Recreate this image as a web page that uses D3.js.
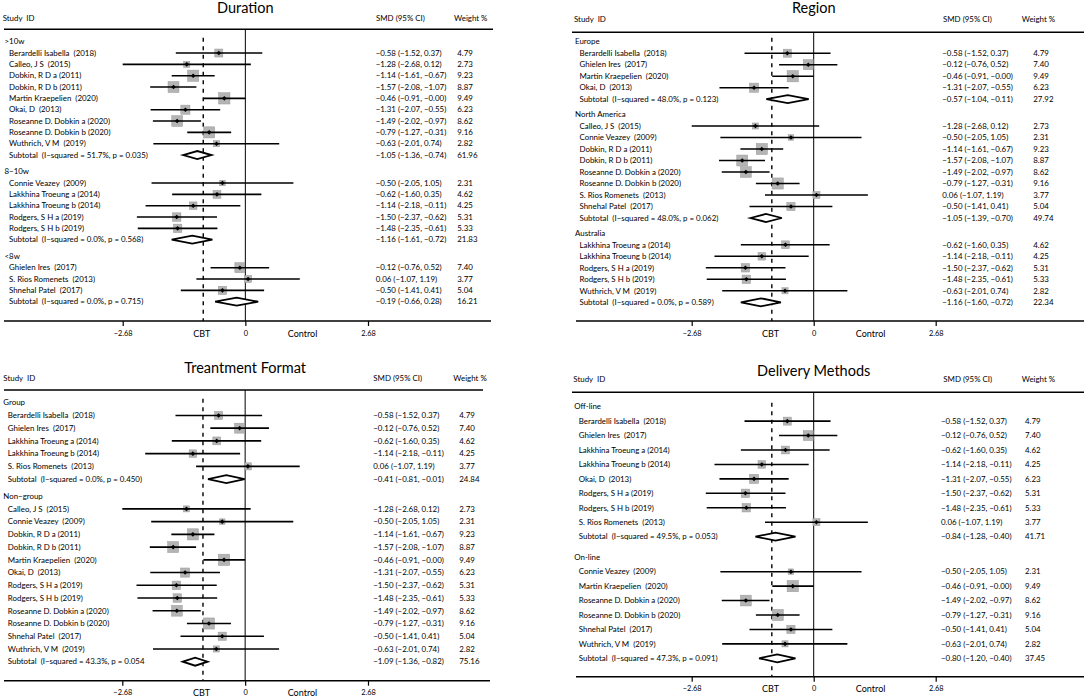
<!DOCTYPE html>
<html><head><meta charset="utf-8">
<script src="https://cdn.jsdelivr.net/npm/d3@7"></script>
<style>
body{margin:0;background:#fff}
text{font-family:Lato,"Open Sans",sans-serif;white-space:pre;fill:#000}
</style></head>
<body><svg id="c" width="1084" height="697"></svg>
<script>
// ---------- DATA ----------
const studyNames = ["Berardelli Isabella  (2018)","Calleo, J S  (2015)","Connie Veazey  (2009)","Dobkin, R D a (2011)","Dobkin, R D b (2011)","Ghielen Ires  (2017)","Lakkhina Troeung a (2014)","Lakkhina Troeung b (2014)","Martin Kraepelien  (2020)","Okai, D  (2013)","Rodgers, S H a (2019)","Rodgers, S H b (2019)","Roseanne D. Dobkin a (2020)","Roseanne D. Dobkin b (2020)","S. Rios Romenets  (2013)","Shnehal Patel  (2017)","Wuthrich, V M  (2019)"];
const studySMD    = [-0.58,-1.28,-0.50,-1.14,-1.57,-0.12,-0.62,-1.14,-0.46,-1.31,-1.50,-1.48,-1.49,-0.79, 0.06,-0.50,-0.63];
const studyLow    = [-1.52,-2.68,-2.05,-1.61,-2.08,-0.76,-1.60,-2.18,-0.91,-2.07,-2.37,-2.35,-2.02,-1.27,-1.07,-1.41,-2.01];
const studyHigh   = [ 0.37, 0.12, 1.05,-0.67,-1.07, 0.52, 0.35,-0.11,-0.00,-0.55,-0.62,-0.61,-0.97,-0.31, 1.19, 0.41, 0.74];
const studyWeight = [4.79,2.73,2.31,9.23,8.87,7.40,4.62,4.25,9.49,6.23,5.31,5.33,8.62,9.16,3.77,5.04,2.82];
const overallSMD = -0.92;
const tickValues = [-2.68, 0, 2.68];
const axisSideLabels = ["CBT","Control"];
const axisSideValues = [-0.95, 1.25];
const headerLabels = ["Study  ID","SMD (95% CI)","Weight %"];

const panelTitles = ["Duration","Region","Treantment Format","Delivery Methods"];

// Duration
const durGroups = [">10w","8\u221210w","<8w"];
const durMembers = [[0,1,3,4,8,9,12,13,16],[2,6,7,10,11],[5,14,15]];
const durSubI2 = ["51.7%","0.0%","0.0%"];
const durSubP = ["0.035)","0.568)","0.715)"];
const durSubSMD = [-1.05,-1.16,-0.19];
const durSubLow = [-1.36,-1.61,-0.66];
const durSubHigh = [-0.74,-0.72,0.28];
const durSubWeight = [61.96,21.83,16.21];
// Region
const regGroups = ["Europe","North America","Australia"];
const regMembers = [[0,5,8,9],[1,2,3,4,12,13,14,15],[6,7,10,11,16]];
const regSubI2 = ["48.0%","48.0%","0.0%"];
const regSubP = ["0.123)","0.062)","0.589)"];
const regSubSMD = [-0.57,-1.05,-1.16];
const regSubLow = [-1.04,-1.39,-1.60];
const regSubHigh = [-0.11,-0.70,-0.72];
const regSubWeight = [27.92,49.74,22.34];
// Treatment format
const fmtGroups = ["Group","Non\u2212group"];
const fmtMembers = [[0,5,6,7,14],[1,2,3,4,8,9,10,11,12,13,15,16]];
const fmtSubI2 = ["0.0%","43.3%"];
const fmtSubP = ["0.450)","0.054"];
const fmtSubSMD = [-0.41,-1.09];
const fmtSubLow = [-0.81,-1.36];
const fmtSubHigh = [-0.01,-0.82];
const fmtSubWeight = [24.84,75.16];
// Delivery methods
const delGroups = ["Off-line","On-line"];
const delMembers = [[0,5,6,7,9,10,11,14],[2,8,12,13,15,16]];
const delSubI2 = ["49.5%","47.3%"];
const delSubP = ["0.053)","0.091)"];
const delSubSMD = [-0.84,-0.80];
const delSubLow = [-1.28,-1.20];
const delSubHigh = [-0.40,-0.40];
const delSubWeight = [41.71,37.45];

// ---------- LAYOUT ----------
const layouts = [
 {hx:2.7, lx:4.5, topL:4, topR:493, axL:4, axR:491, px:[122.7,368], titleY:13, headY:21, topY:29.3, firstY:41.7, lastY:301.7, gap:0.47, axisY:321, smdX:375.7, wtX:457.3, smdHX:376, wtHX:454},
 {hx:574, lx:575, topL:572, topR:1084, axL:576, axR:1084, px:[691.7,935.7], titleY:13, headY:21.5, topY:32.3, firstY:41.7, lastY:302.3, gap:0.33, axisY:321, smdX:942.3, wtX:1033.3, smdHX:943, wtHX:1021.7},
 {hx:3.3, lx:3.3, topL:4, topR:483, axL:4, axR:490, px:[122.3,368], titleY:372.7, headY:380.5, topY:390, firstY:402.7, lastY:661.7, gap:0.34, axisY:680.7, smdX:373.3, wtX:459.3, smdHX:373.3, wtHX:453.3},
 {hx:573.3, lx:574.3, topL:572, topR:1084, axL:576, axR:1084, px:[691.7,935.7], titleY:376, headY:382, topY:392.3, firstY:406.7, lastY:658.3, gap:0.43, axisY:676.7, smdX:941, wtX:1025, smdHX:943.3, wtHX:1021.7}
];

const panelData = [
 [durGroups,durMembers,durSubI2,durSubP,durSubSMD,durSubLow,durSubHigh,durSubWeight],
 [regGroups,regMembers,regSubI2,regSubP,regSubSMD,regSubLow,regSubHigh,regSubWeight],
 [fmtGroups,fmtMembers,fmtSubI2,fmtSubP,fmtSubSMD,fmtSubLow,fmtSubHigh,fmtSubWeight],
 [delGroups,delMembers,delSubI2,delSubP,delSubSMD,delSubLow,delSubHigh,delSubWeight]
];

const fnum = v => ((v < 0 || Object.is(v,-0)) ? "\u2212" : "") + Math.abs(v).toFixed(2);
const ci = (m,l,h) => `${fnum(m)} (${fnum(l)}, ${fnum(h)})`;
const FS = "7.9px";

const svg = d3.select("#c");
const boxScale = d3.scaleSqrt().domain([0,10]).range([0,11.6]);

panelData.forEach((pd, pi) => {
  const L = layouts[pi];
  const [groups, members, i2, pv, sS, sL, sH, sW] = pd;
  const rows = [];
  let slot = 0;
  groups.forEach((g, gi) => {
    if (gi > 0) slot += 1 + L.gap;
    rows.push({type:"head", label:g, slot});
    members[gi].forEach(si => {
      slot += 1;
      rows.push({type:"study", label:studyNames[si], smd:studySMD[si], lo:studyLow[si], hi:studyHigh[si], w:studyWeight[si], slot});
    });
    slot += 1;
    rows.push({type:"sub", label:`Subtotal  (I\u2212squared = ${i2[gi]}, p = ${pv[gi]}`, smd:sS[gi], lo:sL[gi], hi:sH[gi], w:sW[gi], slot});
  });
  const y = d3.scaleLinear().domain([0, slot]).range([L.firstY, L.lastY]);
  const x = d3.scaleLinear().domain([-2.68, 2.68]).range(L.px);
  const g = svg.append("g");

  g.append("text").attr("x", x(0)).attr("y", L.titleY).attr("text-anchor","middle")
    .style("font-size","14.5px").text(panelTitles[pi]);
  g.append("text").attr("x", L.hx).attr("y", L.headY).style("font-size",FS).text(headerLabels[0]);
  g.append("text").attr("x", L.smdHX).attr("y", L.headY).style("font-size",FS).text(headerLabels[1]);
  g.append("text").attr("x", L.wtHX).attr("y", L.headY).style("font-size",FS).text(headerLabels[2]);
  g.append("line").attr("x1",L.topL).attr("x2",L.topR).attr("y1",L.topY).attr("y2",L.topY)
    .attr("stroke","#000").attr("stroke-width",1.4);

  g.append("line").attr("x1",x(0)).attr("x2",x(0)).attr("y1",L.topY).attr("y2",L.axisY)
    .attr("stroke","#000").attr("stroke-width",1);
  g.append("line").attr("x1",x(overallSMD)).attr("x2",x(overallSMD)).attr("y1",L.firstY-4).attr("y2",L.axisY)
    .attr("stroke","#000").attr("stroke-width",1.4).attr("stroke-dasharray","4,4.5");

  rows.forEach(r => {
    const yy = y(r.slot);
    g.append("text").attr("x", r.type==="head" ? L.lx : L.lx+4.5)
      .attr("y", yy).attr("dy","0.35em").style("font-size",FS).text(r.label);
    if (r.type === "head") return;
    g.append("text").attr("x", L.smdX).attr("y", yy).attr("dy","0.35em").style("font-size",FS)
      .text(ci(r.smd, r.lo, r.hi));
    g.append("text").attr("x", L.wtX).attr("y", yy).attr("dy","0.35em").style("font-size",FS)
      .text(r.w.toFixed(2));
    if (r.type === "study") {
      const s = boxScale(r.w);
      g.append("rect").attr("x", x(r.smd)-s/2).attr("y", yy-s/2).attr("width", s).attr("height", s)
        .attr("fill","#b4b4b4").attr("stroke","#9a9a9a").attr("stroke-width",0.5);
      g.append("line").attr("x1", x(r.lo)).attr("x2", x(r.hi)).attr("y1", yy).attr("y2", yy)
        .attr("stroke","#000").attr("stroke-width",1.6);
      const d = 2.3, cx = x(r.smd);
      g.append("path").attr("d", `M${cx-d},${yy}L${cx},${yy-d}L${cx+d},${yy}L${cx},${yy+d}Z`).attr("fill","#000");
    } else {
      const h = 4;
      g.append("path")
        .attr("d", `M${x(r.lo)},${yy}L${x(r.smd)},${yy-h}L${x(r.hi)},${yy}L${x(r.smd)},${yy+h}Z`)
        .attr("fill","#fff").attr("stroke","#000").attr("stroke-width",1.8);
    }
  });

  g.append("line").attr("x1",L.axL).attr("x2",L.axR).attr("y1",L.axisY).attr("y2",L.axisY)
    .attr("stroke","#000").attr("stroke-width",1.4);
  const ax = g.append("g").attr("transform",`translate(0,${L.axisY})`)
    .call(d3.axisBottom(x).tickValues(tickValues).tickSize(5).tickPadding(4.5)
      .tickFormat(v => v === 0 ? "0" : fnum(v)));
  ax.select(".domain").remove();
  ax.selectAll("line").attr("stroke","#000").attr("stroke-width",1.2);
  ax.selectAll("text").style("font-size","7.4px").style("font-family","Lato,sans-serif");
  axisSideLabels.forEach((lab, li) => {
    g.append("text").attr("x", x(axisSideValues[li])).attr("y", L.axisY+15.5)
      .attr("text-anchor","middle").style("font-size","9px").text(lab);
  });
});
</script>
</body></html>
